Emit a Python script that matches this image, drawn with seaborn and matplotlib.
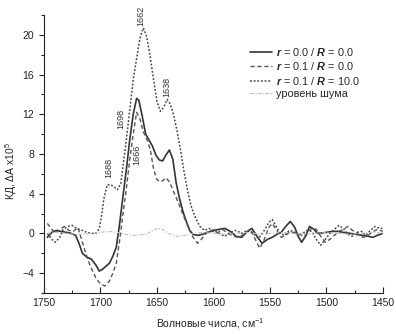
import matplotlib
matplotlib.use("Agg")
import matplotlib.pyplot as plt
from matplotlib.ticker import MultipleLocator
import seaborn as sns
import pandas as pd

# ---- data ----
x_r0 = [1747, 1743, 1739, 1735, 1730, 1726, 1722, 1719, 1716, 1712, 1708, 1704, 1701, 1698, 1695,
        1692, 1689, 1686, 1683, 1680, 1677, 1674, 1671, 1668, 1666, 1663, 1660, 1657, 1654, 1651,
        1648, 1645, 1642, 1639, 1636, 1633, 1630, 1627, 1624, 1621, 1618, 1614, 1610, 1605, 1600,
        1595, 1590, 1585, 1580, 1575, 1570, 1566, 1562, 1557, 1552, 1548, 1544, 1540, 1536, 1532,
        1528, 1525, 1522, 1518, 1515, 1511, 1508, 1500, 1495, 1490, 1485, 1479, 1474, 1468, 1463,
        1459, 1455, 1450]
y_r0 = [-0.4, 0.1, 0.3, 0.2, 0.1, 0.0, -0.2, -1.0, -2.0, -2.4, -2.6, -3.2, -3.8, -3.6, -3.3,
        -3.0, -2.3, -1.4, 1.0, 3.8, 6.5, 9.5, 12.0, 13.6, 13.4, 11.8, 10.0, 9.4, 8.8, 7.9,
        7.4, 7.3, 7.9, 8.4, 7.5, 5.1, 3.5, 2.2, 1.2, 0.3, -0.1, -0.2, -0.1, 0.1, 0.3,
        0.4, 0.5, 0.2, -0.3, -0.4, 0.2, 0.5, -0.2, -1.0, -0.6, -0.4, -0.1, 0.1, 0.7, 1.2,
        0.6, -0.3, -0.9, -0.2, 0.7, 0.4, 0.0, 0.1, 0.2, 0.2, 0.1, 0.0, -0.1, -0.2, -0.3,
        -0.4, -0.2, 0.0]

x_r1 = [1747, 1743, 1740, 1736, 1732, 1728, 1724, 1720, 1717, 1713, 1709, 1704, 1700, 1696, 1692,
        1689, 1686, 1683, 1680, 1677, 1674, 1671, 1668, 1665, 1662, 1659, 1656, 1653, 1650, 1646,
        1642, 1639, 1636, 1633, 1630, 1627, 1624, 1621, 1618, 1614, 1610, 1606, 1602, 1597, 1592,
        1587, 1582, 1577, 1572, 1567, 1563, 1559, 1555, 1551, 1548, 1544, 1540, 1536, 1532, 1528,
        1524, 1520, 1516, 1512, 1509, 1505, 1501, 1497, 1493, 1489, 1485, 1481, 1477, 1473, 1468,
        1464, 1460, 1455, 1450]
y_r1 = [1.0, 0.4, 0.0, 0.4, 0.7, 0.3, 0.2, 0.6, -0.5, -2.0, -3.3, -4.5, -5.1, -5.3, -4.8,
        -4.0, -3.0, -0.7, 2.0, 4.6, 7.5, 10.0, 12.2, 11.5, 10.2, 9.5, 8.5, 6.5, 5.4, 5.2,
        5.6, 5.2, 4.4, 3.6, 2.8, 1.9, 1.1, 0.3, -0.4, -1.0, -0.5, 0.1, 0.3, 0.0, 0.4,
        0.0, -0.3, -0.4, 0.0, 0.4, -0.6, -1.5, -0.6, 0.6, 1.0, 0.3, -0.4, -0.2, 0.2, 0.0,
        -0.1, -0.3, 0.2, 0.6, 0.4, -0.3, -0.9, -0.6, -0.2, 0.2, 0.4, 0.7, 0.3, 0.0, -0.4,
        -0.3, 0.1, 0.4, 0.2]

x_r10 = [1747, 1743, 1740, 1736, 1733, 1729, 1725, 1721, 1716, 1712, 1708, 1704, 1701, 1699, 1697,
         1694, 1691, 1688, 1685, 1682, 1680, 1677, 1674, 1671, 1668, 1665, 1662, 1659, 1656, 1653,
         1650, 1647, 1644, 1641, 1638, 1635, 1632, 1629, 1626, 1623, 1620, 1616, 1612, 1608, 1604,
         1600, 1595, 1590, 1585, 1580, 1575, 1570, 1565, 1560, 1555, 1551, 1548, 1545, 1541, 1537,
         1533, 1529, 1525, 1521, 1517, 1513, 1509, 1505, 1501, 1497, 1493, 1489, 1485, 1481, 1477,
         1473, 1469, 1465, 1461, 1457, 1453, 1450]
y_r10 = [0.0, -0.6, -0.9, -0.4, 0.4, 0.7, 0.8, 0.5, 0.3, 0.1, 0.0, 0.0, 0.5, 1.8, 3.5,
         4.9, 4.9, 4.7, 4.4, 5.0, 6.8, 9.5, 12.5, 15.5, 17.6, 19.7, 20.7, 19.8, 17.8, 15.5,
         13.3, 12.3, 12.7, 13.5, 13.0, 11.8, 10.2, 8.3, 6.2, 4.4, 2.8, 1.6, 0.7, 0.3, 0.5,
         0.3, 0.0, -0.3, 0.1, 0.3, 0.0, 0.3, 0.0, -0.5, 0.3, 1.1, 1.4, 0.8, 0.0, -0.2,
         0.3, 0.2, -0.2, 0.0, 0.3, 0.2, -0.6, -1.2, -0.6, 0.0, 0.4, 0.8, 0.5, -0.1, -0.3,
         0.1, 0.2, -0.2, 0.3, 0.7, 0.5, 0.5]

x_noise = [1747, 1740, 1730, 1720, 1710, 1700, 1692, 1685, 1678, 1670, 1660, 1655, 1650, 1645, 1640,
           1632, 1625, 1618, 1610, 1600, 1590, 1580, 1570, 1560, 1550, 1540, 1530, 1520, 1510, 1500,
           1490, 1480, 1470, 1460, 1450]
y_noise = [0.0, 0.1, 0.0, -0.1, 0.0, 0.1, 0.2, 0.1, -0.1, -0.2, -0.1, 0.2, 0.5, 0.4, 0.0,
           -0.3, -0.2, 0.0, 0.1, 0.0, -0.1, 0.0, 0.1, -0.1, 0.0, 0.1, 0.0, -0.1, 0.0, 0.1,
           0.0, -0.1, 0.0, 0.1, 0.0]

labels = [r"$\mathbfit{r}$ = 0.0 / $\mathbfit{R}$ = 0.0",
          r"$\mathbfit{r}$ = 0.1 / $\mathbfit{R}$ = 0.0",
          r"$\mathbfit{r}$ = 0.1 / $\mathbfit{R}$ = 10.0",
          "уровень шума"]

peak_labels = ["1662", "1638", "1698", "1688", "1666"]
peak_x = [1664, 1641, 1682, 1693, 1668]
peak_y = [21.9, 14.8, 11.5, 6.6, 7.9]

x_ticks = [1750, 1700, 1650, 1600, 1550, 1500, 1450]
y_ticks = [-4, 0, 4, 8, 12, 16, 20]

# ---- style ----
sns.set_theme(style="ticks")
plt.rcParams["font.family"] = ["Liberation Sans", "DejaVu Sans"]
plt.rcParams["mathtext.fontset"] = "custom"
plt.rcParams["mathtext.rm"] = "Liberation Sans"
plt.rcParams["mathtext.it"] = "Liberation Sans:italic"
plt.rcParams["mathtext.bf"] = "Liberation Sans:bold"
plt.rcParams["mathtext.bfit"] = "Liberation Sans:italic:bold"

fig = plt.figure(figsize=(3.96, 3.34), dpi=100)
ax = fig.add_axes([0.111, 0.123, 0.856, 0.832])

series = [
    (x_r0, y_r0, labels[0], dict(color="#333333", lw=1.2, ls="-")),
    (x_r1, y_r1, labels[1], dict(color="#555555", lw=1.0, ls=(0, (3, 2)))),
    (x_r10, y_r10, labels[2], dict(color="#444444", lw=1.1, ls=(0, (1.2, 1.2)))),
    (x_noise, y_noise, labels[3], dict(color="#bbbbbb", lw=0.8, ls=(0, (3, 1.5, 1, 1.5)))),
]
for xs, ys, lab, st in series:
    df = pd.DataFrame({"x": xs, "y": ys})
    sns.lineplot(data=df, x="x", y="y", ax=ax, label=lab, sort=False,
                 color=st["color"], linewidth=st["lw"], linestyle=st["ls"])

for t, px, py in zip(peak_labels, peak_x, peak_y):
    ax.text(px, py, t, rotation=90, ha="center", va="center", fontsize=6.5, color="#333333")

ax.set_xlim(1750, 1450)
ax.set_ylim(-6, 22)
ax.set_xticks(x_ticks)
ax.set_yticks(y_ticks)
ax.xaxis.set_minor_locator(MultipleLocator(25))
ax.yaxis.set_minor_locator(MultipleLocator(2))
ax.tick_params(axis="x", which="both", direction="in", labelsize=7.5, colors="#222222")
ax.tick_params(axis="x", which="major", length=4, width=0.8)
ax.tick_params(axis="x", which="minor", length=2.5, width=0.8)
ax.tick_params(axis="y", which="both", direction="out", labelsize=7.5, colors="#222222")
ax.tick_params(axis="y", which="major", length=3.5, width=0.8)
ax.tick_params(axis="y", which="minor", length=2, width=0.8)
for s in ["left", "bottom"]:
    ax.spines[s].set_linewidth(0.8)
    ax.spines[s].set_color("#222222")
sns.despine(ax=ax)

ax.set_xlabel(r"Волновые числа, см$^{-1}$", fontsize=7.5, color="#222222")
ax.set_ylabel(r"КД, ΔA x10$^{5}$", fontsize=7.5, color="#222222")
ax.xaxis.set_label_coords(0.49, -0.083)
ax.yaxis.set_label_coords(-0.075, 0.44)

leg = ax.legend(loc="upper left", bbox_to_anchor=(0.595, 0.905), frameon=False,
                fontsize=7.8, handlelength=2.0, handletextpad=0.4, labelspacing=0.22,
                borderaxespad=0)

fig.savefig("out.png", dpi=100)
